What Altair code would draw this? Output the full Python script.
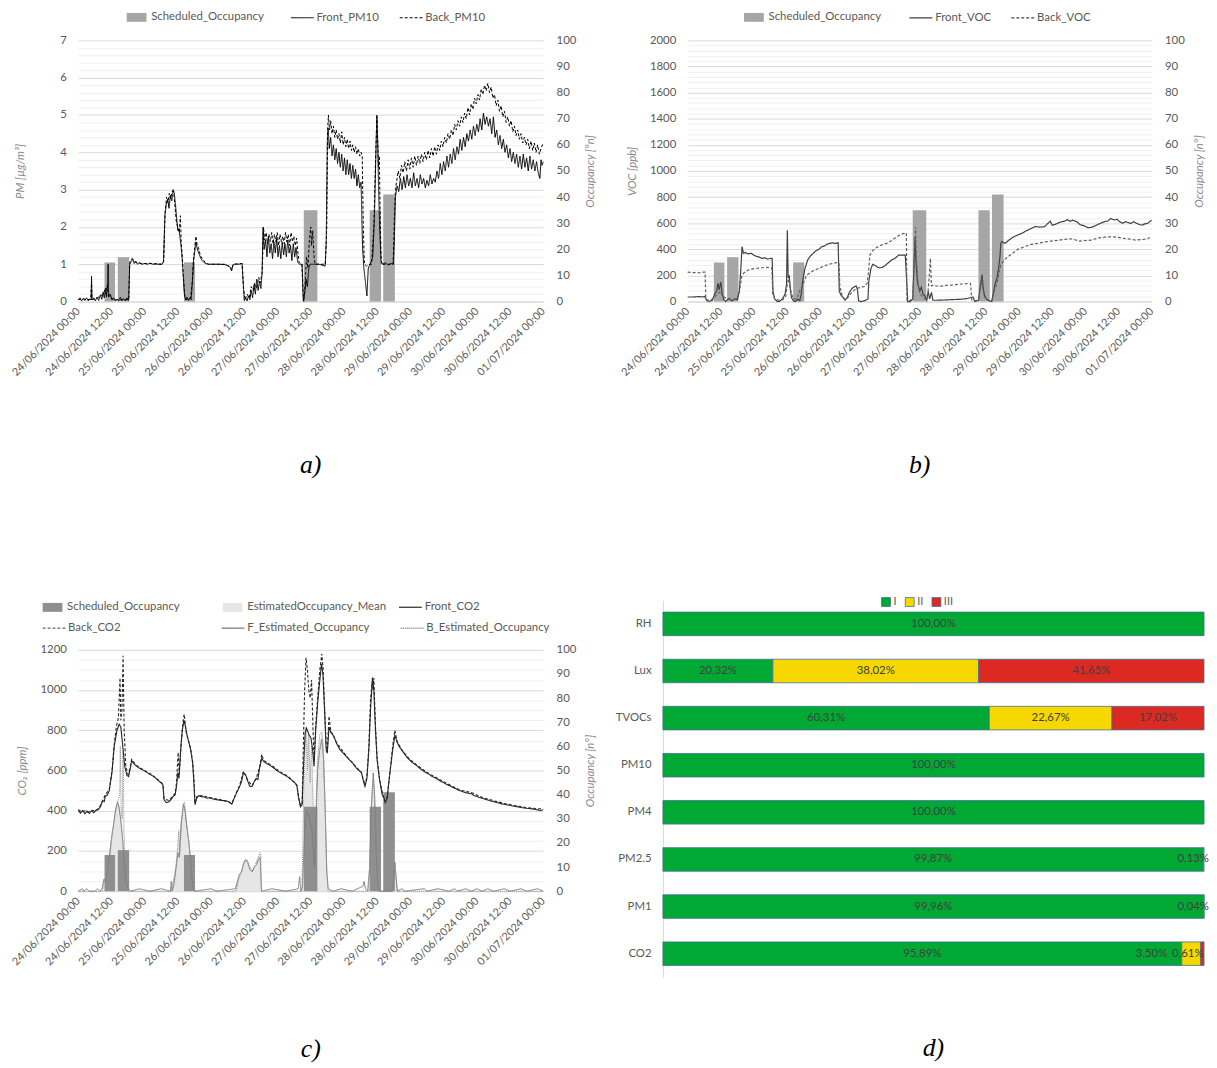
import altair as alt
import pandas as pd

# ---------------- axes / labels ----------------
HOUR_TICKS = list(range(0, 169, 12))
TICK_LABELS = ["24/06/2024 00:00", "24/06/2024 12:00", "25/06/2024 00:00", "25/06/2024 12:00",
               "26/06/2024 00:00", "26/06/2024 12:00", "27/06/2024 00:00", "27/06/2024 12:00",
               "28/06/2024 00:00", "28/06/2024 12:00", "29/06/2024 00:00", "29/06/2024 12:00",
               "30/06/2024 00:00", "30/06/2024 12:00", "01/07/2024 00:00"]
PM_GRID = [round(i * 0.2, 1) for i in range(36)]
VOC_GRID = [i * 40 for i in range(51)]
CO2_GRID = [i * 50 for i in range(25)]
OCC_TICKS = list(range(0, 101, 10))

# ---------------- scheduled occupancy (hours from 24/06 00:00) ----------------
SCHED_START = [9.5, 14.3, 38.2, 81.5, 105.3, 110.2]
SCHED_END = [13.3, 18.4, 42.2, 86.4, 109.4, 114.4]
SCHED_OCC = [15, 17, 15, 35, 35, 41]

# ---------------- a) PM10 ----------------
FRONT_PM10 = [(0, 0.05), (0.6, 0.1), (1.2, 0.02), (1.8, 0.08), (2.4, 0.03), (3.0, 0.1), (3.6, 0.02), (4.2, 0.06),
              (4.7, 0.05), (4.8, 0.68), (4.95, 0.05), (5.6, 0.1), (6.2, 0.02), (6.8, 0.12), (7.4, 0.03), (8.0, 0.18),
              (8.5, 0.06), (9.0, 0.25), (9.4, 0.1), (9.8, 0.35), (10.2, 0.12), (10.6, 0.45), (10.8, 1.0), (11.0, 0.12),
              (11.6, 0.2), (12.2, 0.05), (12.8, 0.1), (13.4, 0.02), (14.0, 0.06), (14.6, 0.02), (15.2, 0.12), (15.8, 0.03),
              (16.4, 0.08), (17.0, 0.02), (17.6, 0.1), (18.2, 0.03), (18.6, 1.0), (19.2, 1.08), (19.7, 1.15), (20.2, 1.02),
              (20.8, 1.08), (21.4, 1.0), (22.0, 1.04), (23.0, 1.0), (24.0, 1.02), (25.0, 1.0), (26.0, 1.03), (27.0, 1.0),
              (28.0, 1.01), (29.0, 1.0), (30.3, 1.0), (30.8, 1.06), (31.3, 2.3), (31.8, 2.6), (32.3, 2.75), (32.8, 2.5),
              (33.3, 2.85), (33.8, 2.7), (34.3, 3.0), (34.7, 2.9), (35.2, 2.55), (35.6, 2.2), (36.0, 1.9), (36.4, 1.95),
              (36.8, 1.7), (37.2, 1.45), (37.6, 1.1), (38.0, 0.6), (38.4, 0.15), (38.8, 0.05), (39.3, 0.12), (39.8, 0.03),
              (40.3, 0.1), (40.8, 0.05), (41.3, 0.6), (41.7, 1.1), (42.1, 1.35), (42.5, 1.6), (42.9, 1.45), (43.3, 1.35),
              (43.8, 1.25), (44.3, 1.15), (44.8, 1.1), (45.4, 1.05), (46.0, 1.02), (47.0, 1.0), (49.0, 1.0), (51.0, 1.0),
              (53.0, 0.99), (54.5, 0.95), (55.0, 0.9), (55.4, 0.82), (55.8, 0.97), (56.5, 1.0), (58.0, 1.0), (59.2, 1.02),
              (59.6, 0.5), (60.0, 0.02), (60.5, 0.1), (61.0, 0.02), (61.5, 0.15), (62.0, 0.05), (62.5, 0.3), (63.0, 0.1),
              (63.5, 0.45), (64.0, 0.2), (64.5, 0.6), (65.0, 0.3), (65.5, 0.55), (66.0, 0.35), (66.4, 0.75), (66.8, 1.98),
              (67.2, 1.4), (67.7, 1.65), (68.2, 1.2), (68.7, 1.75), (69.2, 1.3), (69.7, 1.55), (70.2, 1.15), (70.7, 1.6),
              (71.2, 1.3), (71.7, 1.7), (72.2, 1.2), (72.7, 1.5), (73.2, 1.15), (73.7, 1.6), (74.2, 1.25), (74.7, 1.55),
              (75.2, 1.2), (75.7, 1.65), (76.2, 1.3), (76.7, 1.5), (77.2, 1.1), (77.7, 1.55), (78.2, 1.2), (78.7, 1.45),
              (79.3, 1.05), (80.0, 1.0), (80.9, 1.0), (81.3, 0.02), (81.8, 0.2), (82.3, 0.6), (82.8, 0.4), (83.3, 0.9),
              (83.8, 1.0), (85.0, 1.0), (87.0, 1.0), (89.2, 0.95), (89.6, 1.6), (90.0, 4.3), (90.3, 4.65), (90.7, 4.1),
              (91.2, 4.4), (91.7, 3.9), (92.2, 4.2), (92.7, 3.8), (93.2, 4.1), (93.7, 3.7), (94.2, 4.0), (94.7, 3.6),
              (95.2, 3.95), (95.7, 3.5), (96.2, 3.85), (96.7, 3.4), (97.2, 3.8), (97.7, 3.4), (98.2, 3.7), (98.7, 3.3),
              (99.2, 3.65), (99.7, 3.3), (100.2, 3.55), (100.7, 3.1), (101.2, 3.4), (101.7, 3.05), (102.2, 3.2), (102.7, 1.5),
              (103.2, 0.9), (103.8, 0.5), (104.3, 0.15), (104.8, 0.9), (105.5, 1.0), (106.4, 1.2), (107.0, 2.2), (107.5, 3.8),
              (107.9, 5.0), (108.2, 4.3), (108.5, 3.1), (108.9, 2.0), (109.4, 1.1), (110.0, 1.0), (111.0, 1.04), (112.0, 0.98),
              (113.0, 1.02), (113.8, 1.0), (114.2, 1.6), (114.6, 2.8), (115.2, 3.1), (115.8, 2.95), (116.4, 3.3), (117.0, 3.0),
              (117.6, 3.35), (118.2, 3.05), (118.8, 3.4), (119.4, 3.1), (120.0, 3.3), (120.6, 3.05), (121.2, 3.45), (121.8, 3.1),
              (122.4, 3.3), (123.0, 3.05), (123.6, 3.4), (124.2, 3.15), (124.8, 3.3), (125.4, 3.05), (126.0, 3.25), (126.6, 3.1),
              (127.2, 3.4), (127.8, 3.15), (128.4, 3.3), (129.0, 3.2), (129.6, 3.5), (130.2, 3.3), (130.8, 3.7), (131.4, 3.4),
              (132.0, 3.75), (132.6, 3.5), (133.2, 3.9), (133.8, 3.6), (134.4, 3.95), (135.0, 3.7), (135.6, 4.1), (136.2, 3.8),
              (136.8, 4.15), (137.4, 3.95), (138.0, 4.35), (138.6, 4.05), (139.2, 4.4), (139.8, 4.15), (140.4, 4.5), (141.0, 4.3),
              (141.6, 4.6), (142.2, 4.35), (142.8, 4.7), (143.4, 4.45), (144.0, 4.75), (144.6, 4.55), (145.2, 4.9), (145.8, 4.6),
              (146.4, 5.05), (147.0, 4.75), (147.6, 4.95), (148.2, 4.7), (148.8, 4.9), (149.4, 4.5), (150.0, 4.95), (150.6, 4.4),
              (151.2, 4.6), (151.8, 4.2), (152.4, 4.45), (153.0, 4.1), (153.6, 4.35), (154.2, 4.0), (154.8, 4.2), (155.4, 3.85),
              (156.0, 4.1), (156.6, 3.75), (157.2, 4.0), (157.8, 3.7), (158.4, 3.95), (159.0, 3.6), (159.6, 3.9), (160.2, 3.55),
              (160.8, 3.95), (161.4, 3.6), (162.0, 3.85), (162.6, 3.5), (163.2, 3.9), (163.8, 3.55), (164.4, 3.8), (165.0, 3.5),
              (165.6, 3.75), (166.2, 3.45), (166.8, 3.3), (167.2, 3.8), (167.6, 3.65), (168.0, 3.75)]

BACK_PM10 = [(0, 0.05), (1.5, 0.08), (3.0, 0.05), (4.5, 0.06), (4.8, 0.55), (5.0, 0.05), (6.5, 0.08), (8.0, 0.15),
             (9.0, 0.2), (9.5, 0.3), (10.0, 0.2), (10.5, 0.45), (10.9, 0.15), (11.5, 0.1), (13.0, 0.05), (15.0, 0.05),
             (17.0, 0.05), (18.3, 0.05), (18.6, 1.05), (19.3, 1.15), (20.0, 1.08), (21.0, 1.05), (23.0, 1.02), (26.0, 1.02),
             (30.3, 1.0), (30.9, 1.1), (31.4, 2.4), (31.9, 2.8), (32.4, 2.65), (32.9, 2.9), (33.4, 2.75), (33.9, 2.95),
             (34.5, 2.95), (35.0, 2.5), (35.5, 2.1), (36.0, 2.0), (36.5, 1.85), (36.9, 2.3), (37.2, 1.6), (37.6, 1.2),
             (38.0, 0.7), (38.4, 0.2), (38.9, 0.05), (40.5, 0.08), (41.2, 0.5), (41.6, 1.1), (42.1, 1.45), (42.5, 1.75),
             (42.9, 1.55), (43.4, 1.45), (43.9, 1.3), (44.4, 1.2), (45.0, 1.12), (46.0, 1.05), (47.0, 1.0), (50.0, 1.0),
             (53.0, 1.0), (55.0, 0.92), (55.5, 0.85), (56.0, 1.0), (59.2, 1.02), (59.7, 0.4), (60.2, 0.05), (61.0, 0.2),
             (61.8, 0.1), (62.5, 0.4), (63.2, 0.3), (63.8, 0.5), (64.5, 0.35), (65.2, 0.65), (65.8, 0.5), (66.5, 0.8),
             (66.9, 2.0), (67.4, 1.65), (67.9, 1.85), (68.4, 1.55), (68.9, 1.8), (69.4, 1.6), (69.9, 1.85), (70.4, 1.55),
             (70.9, 1.8), (71.4, 1.6), (71.9, 1.85), (72.4, 1.5), (72.9, 1.8), (73.4, 1.6), (73.9, 1.75), (74.4, 1.55),
             (74.9, 1.85), (75.4, 1.6), (75.9, 1.8), (76.4, 1.5), (76.9, 1.85), (77.4, 1.6), (77.9, 1.75), (78.4, 1.5),
             (78.9, 1.7), (79.4, 1.3), (79.8, 1.05), (80.8, 1.0), (81.2, 0.3), (81.5, 0.0), (82.0, 0.5), (82.5, 1.2),
             (83.0, 0.9), (83.5, 1.6), (84.0, 2.0), (84.3, 1.5), (84.7, 1.9), (85.2, 1.2), (85.6, 1.0), (89.3, 1.0),
             (89.8, 2.0), (90.1, 4.6), (90.4, 5.0), (90.8, 4.6), (91.2, 4.85), (91.7, 4.5), (92.2, 4.7), (92.7, 4.4),
             (93.2, 4.6), (93.7, 4.35), (94.2, 4.5), (94.7, 4.25), (95.2, 4.55), (95.7, 4.2), (96.2, 4.4), (96.7, 4.15),
             (97.2, 4.35), (97.7, 4.1), (98.2, 4.3), (98.7, 4.05), (99.2, 4.2), (99.7, 4.0), (100.2, 4.15), (100.7, 3.95),
             (101.2, 4.1), (101.7, 3.9), (102.2, 4.0), (102.6, 3.9), (103.0, 2.0), (103.4, 1.0), (104.2, 0.95), (105.0, 1.0),
             (106.0, 1.0), (106.8, 2.0), (107.5, 4.0), (107.9, 4.95), (108.2, 4.3), (108.5, 3.6), (108.8, 3.9), (109.1, 2.2),
             (109.5, 1.0), (113.8, 1.0), (114.2, 2.2), (114.6, 3.0), (115.0, 3.2), (115.6, 3.5), (116.2, 3.3), (116.8, 3.65),
             (117.4, 3.45), (118.0, 3.75), (118.6, 3.5), (119.2, 3.8), (119.8, 3.55), (120.4, 3.85), (121.0, 3.6), (121.6, 3.9),
             (122.2, 3.65), (122.8, 3.9), (123.4, 3.7), (124.0, 3.95), (124.6, 3.75), (125.2, 4.0), (125.8, 3.8), (126.4, 4.05),
             (127.0, 3.85), (127.6, 4.1), (128.2, 3.9), (128.8, 4.15), (129.4, 3.95), (130.0, 4.2), (130.6, 4.05), (131.2, 4.3),
             (131.8, 4.15), (132.4, 4.4), (133.0, 4.25), (133.6, 4.5), (134.2, 4.35), (134.8, 4.6), (135.4, 4.45), (136.0, 4.75),
             (136.6, 4.6), (137.2, 4.85), (137.8, 4.7), (138.4, 4.95), (139.0, 4.8), (139.6, 5.05), (140.2, 4.9), (140.8, 5.2),
             (141.4, 5.0), (142.0, 5.3), (142.6, 5.15), (143.2, 5.45), (143.8, 5.3), (144.4, 5.55), (145.0, 5.4), (145.6, 5.7),
             (146.2, 5.55), (146.8, 5.8), (147.4, 5.65), (148.0, 5.85), (148.6, 5.6), (149.2, 5.75), (149.8, 5.45), (150.4, 5.55),
             (151.0, 5.25), (151.6, 5.4), (152.2, 5.1), (152.8, 5.25), (153.4, 4.95), (154.0, 5.1), (154.6, 4.8), (155.2, 4.95),
             (155.8, 4.7), (156.4, 4.85), (157.0, 4.55), (157.6, 4.7), (158.2, 4.45), (158.8, 4.6), (159.4, 4.35), (160.0, 4.5),
             (160.6, 4.25), (161.2, 4.4), (161.8, 4.2), (162.4, 4.35), (163.0, 4.1), (163.6, 4.3), (164.2, 4.05), (164.8, 4.25),
             (165.4, 4.0), (166.0, 4.2), (166.6, 3.95), (167.2, 4.1), (168.0, 4.25)]

# ---------------- b) VOC ----------------
FRONT_VOC = [(0, 35), (2, 35), (4, 38), (5.5, 35), (6.2, 40), (7.0, 5), (8.0, 2), (9.0, 10), (9.8, 60), (10.5, 80),
             (11.0, 140), (11.4, 90), (12.0, 150), (12.5, 60), (13.0, 20), (13.8, 0), (15.0, 25), (16.0, 5), (17.0, 20),
             (18.0, 15), (18.7, 80), (19.2, 230), (19.7, 420), (20.2, 370), (21.0, 375), (22.0, 365), (23.0, 370),
             (24.0, 355), (25.0, 345), (26.0, 340), (27.0, 330), (28.0, 335), (29.0, 325), (30.0, 330), (30.6, 330),
             (30.9, 80), (31.5, 20), (32.5, 0), (33.5, 5), (34.5, 25), (35.3, 60), (35.8, 130), (36.1, 546), (36.4, 180),
             (36.8, 200), (37.2, 90), (37.6, 30), (38.3, 5), (39.0, 0), (40.0, 18), (40.6, 5), (41.1, 55), (41.8, 180),
             (42.5, 255), (43.5, 320), (44.5, 350), (45.5, 370), (46.5, 390), (47.5, 400), (48.5, 420), (49.5, 425),
             (50.5, 440), (51.5, 445), (52.5, 450), (53.5, 445), (54.5, 450), (54.9, 80), (55.5, 50), (56.5, 25), (57.0, 10),
             (57.8, 30), (58.5, 68), (59.5, 100), (60.5, 115), (61.0, 120), (61.5, 90), (61.9, 5), (63.0, 0), (64.5, 10),
             (65.3, 20), (65.6, 156), (66.4, 255), (67.0, 285), (68.0, 275), (68.6, 265), (69.5, 258), (70.5, 262),
             (71.5, 275), (72.8, 300), (74.0, 320), (75.0, 330), (76.4, 355), (77.5, 355), (78.8, 355), (79.2, 200),
             (79.7, 0), (80.6, 0), (81.5, 20), (82.0, 300), (82.3, 490), (82.7, 300), (83.2, 150), (84.0, 80), (84.6, 110),
             (85.2, 60), (86.0, 40), (86.6, 10), (87.1, 80), (87.6, 20), (88.3, 70), (88.8, 10), (90.0, 10), (93.0, 12),
             (96.0, 15), (99.0, 18), (101.0, 22), (102.5, 30), (103.3, 35), (104.0, 0), (105.3, 10), (106.0, 120),
             (106.6, 206), (107.0, 100), (107.5, 40), (108.3, 18), (109.3, 5), (110.1, 0), (111.3, 131), (112.0, 181),
             (112.6, 256), (113.1, 350), (113.4, 446), (113.8, 460), (114.9, 446), (116.0, 465), (117.2, 484), (118.5, 500),
             (119.6, 510), (121.0, 522), (122.5, 540), (124.4, 560), (126.0, 575), (127.5, 570), (129.2, 573), (130.5, 600),
             (131.3, 615), (132.0, 585), (133.0, 590), (134.0, 600), (135.2, 610), (136.5, 615), (137.5, 628), (138.5, 615),
             (139.5, 623), (141.0, 610), (142.0, 590), (143.6, 580), (145.0, 565), (146.5, 570), (148.0, 585), (149.5, 600),
             (151.0, 612), (152.3, 618), (153.1, 636), (154.5, 625), (155.5, 630), (156.5, 610), (157.5, 600), (158.5, 612),
             (159.5, 605), (160.5, 598), (161.5, 612), (162.5, 600), (163.5, 590), (164.6, 585), (165.5, 595), (166.5, 598),
             (167.2, 610), (168.0, 623)]

BACK_VOC = [(0, 225), (2, 222), (4, 220), (5.8, 225), (6.3, 225), (6.6, 20), (7.5, 10), (9.0, 20), (10.0, 40), (11.0, 60),
            (12.0, 80), (12.6, 40), (13.5, 30), (15.0, 20), (16.5, 15), (17.5, 20), (18.6, 50), (19.1, 130), (19.6, 190),
            (20.3, 218), (21.0, 230), (22.1, 244), (23.5, 250), (25.0, 255), (26.5, 257), (28.0, 262), (29.5, 260),
            (30.5, 257), (30.8, 60), (31.5, 20), (33.0, 10), (34.5, 15), (35.5, 40), (36.0, 120), (36.5, 175), (37.0, 120),
            (37.6, 60), (38.3, 20), (39.5, 20), (40.5, 80), (41.5, 120), (42.3, 160), (43.0, 200), (44.0, 215), (45.0, 230),
            (46.5, 245), (48.0, 260), (49.5, 272), (51.0, 285), (52.5, 292), (54.0, 298), (54.8, 295), (55.1, 120),
            (56.0, 40), (57.0, 15), (58.0, 30), (59.0, 60), (60.0, 80), (61.0, 100), (62.0, 105), (63.0, 110), (64.0, 115),
            (65.0, 140), (65.6, 250), (66.0, 357), (67.0, 390), (68.0, 410), (69.5, 425), (70.5, 436), (72.4, 448),
            (74.0, 470), (76.4, 505), (78.0, 520), (79.2, 525), (79.4, 10), (80.5, 5), (81.5, 30), (82.0, 250), (82.5, 570),
            (82.9, 300), (83.5, 120), (84.2, 60), (85.0, 40), (86.0, 20), (87.0, 60), (87.5, 200), (87.9, 330), (88.3, 120),
            (88.8, 125), (90.0, 120), (92.0, 118), (94.0, 125), (96.0, 128), (98.0, 132), (100.0, 135), (102.0, 140),
            (102.4, 140), (102.9, 10), (104.0, 5), (105.3, 15), (106.0, 100), (106.6, 180), (107.2, 80), (108.0, 20),
            (110.0, 0), (111.3, 100), (112.3, 170), (113.0, 250), (113.4, 282), (114.9, 325), (117.2, 363), (119.6, 400),
            (122.0, 421), (124.4, 438), (126.8, 446), (129.2, 456), (131.5, 463), (133.8, 468), (136.2, 476), (138.6, 481),
            (140.0, 475), (141.5, 463), (143.6, 466), (146.0, 470), (148.7, 488), (151.0, 493), (153.1, 496), (155.5, 493),
            (158.0, 483), (160.5, 478), (162.0, 471), (164.6, 475), (166.5, 481), (168.0, 496)]

# ---------------- c) CO2 + estimated occupancy ----------------
FRONT_CO2 = [(0, 400), (0.8, 388), (1.6, 402), (2.4, 385), (3.2, 398), (4.0, 386), (4.8, 400), (5.6, 390), (6.4, 402),
             (7.2, 405), (8.0, 420), (8.8, 450), (9.4, 445), (9.8, 472), (10.5, 478), (11.2, 500), (12.2, 590), (13.0, 720),
             (14.0, 800), (14.8, 830), (15.4, 815), (16.1, 720), (16.8, 620), (17.6, 575), (18.2, 570), (18.8, 610),
             (19.3, 650), (20.0, 635), (21.0, 622), (22.0, 612), (23.0, 605), (24.0, 598), (25.0, 588), (26.0, 580),
             (27.0, 572), (28.0, 562), (29.0, 548), (30.0, 538), (30.6, 528), (31.0, 455), (31.8, 440), (32.8, 445),
             (33.5, 455), (34.2, 470), (35.0, 478), (35.5, 520), (36.0, 590), (36.4, 560), (37.0, 700), (37.6, 800),
             (38.2, 850), (38.7, 820), (39.4, 770), (40.6, 705), (41.3, 640), (41.7, 560), (42.2, 430), (42.8, 462),
             (43.5, 475), (44.5, 470), (45.5, 468), (46.5, 462), (47.5, 465), (48.7, 458), (50.0, 455), (51.2, 452),
             (52.5, 450), (53.5, 448), (54.5, 445), (55.5, 432), (56.3, 460), (57.1, 485), (58.3, 520), (59.0, 545),
             (59.7, 590), (60.5, 578), (61.3, 545), (62.0, 522), (62.8, 520), (63.6, 545), (64.4, 560), (64.9, 555),
             (65.5, 610), (66.3, 660), (67.0, 645), (68.0, 635), (69.0, 628), (70.4, 615), (71.8, 600), (73.1, 588),
             (74.5, 578), (75.9, 566), (77.2, 552), (78.3, 538), (79.0, 525), (79.6, 465), (80.3, 420), (80.9, 430),
             (81.4, 620), (82.0, 790), (82.5, 810), (83.3, 780), (84.1, 760), (84.7, 700), (85.2, 620), (85.8, 800),
             (86.6, 950), (87.3, 1050), (87.9, 1130), (88.4, 1080), (89.0, 900), (89.6, 700), (90.0, 686), (90.6, 816),
             (91.2, 790), (92.4, 770), (93.3, 735), (94.5, 705), (95.5, 690), (96.9, 669), (97.8, 655), (99.0, 640),
             (100.5, 612), (101.5, 600), (102.3, 590), (103.0, 550), (103.6, 521), (104.3, 560), (105.0, 700), (105.6, 900),
             (106.3, 1062), (106.8, 1000), (107.4, 800), (108.0, 650), (108.8, 560), (109.8, 480), (110.6, 460), (110.9, 440),
             (111.6, 460), (112.4, 560), (112.9, 620), (113.6, 700), (114.4, 776), (115.2, 740), (116.0, 718), (117.0, 700),
             (118.0, 680), (119.0, 662), (119.8, 652), (120.6, 640), (121.5, 632), (122.5, 622), (123.5, 610), (124.5, 600),
             (125.5, 590), (126.7, 582), (127.6, 572), (128.5, 566), (129.4, 560), (130.2, 554), (131.1, 545), (132.0, 540),
             (133.0, 531), (134.0, 526), (135.0, 518), (136.0, 512), (137.0, 506), (138.0, 499), (139.0, 494), (140.0, 490),
             (141.0, 487), (142.1, 484), (143.0, 476), (144.0, 471), (145.0, 466), (146.0, 462), (147.0, 457), (148.0, 453),
             (149.0, 448), (150.0, 446), (151.0, 441), (152.0, 439), (153.0, 434), (154.0, 432), (155.0, 429), (156.0, 427),
             (157.0, 423), (158.0, 421), (159.0, 419), (160.0, 416), (161.0, 414), (162.0, 412), (163.0, 411), (164.0, 409),
             (165.0, 406), (166.0, 404), (167.0, 401), (168.0, 405)]

BACK_CO2 = [(0, 405), (1.2, 395), (2.4, 400), (3.6, 392), (4.8, 402), (6.0, 398), (7.2, 410), (8.0, 425), (9.0, 455),
            (9.8, 480), (11.2, 505), (12.2, 600), (13.0, 730), (13.8, 820), (14.5, 860), (15.1, 1060), (15.4, 850),
            (15.8, 900), (16.2, 1170), (16.6, 800), (17.2, 620), (18.0, 580), (18.8, 615), (19.3, 655), (21.0, 625),
            (24.0, 600), (27.0, 575), (30.0, 540), (30.6, 530), (31.0, 460), (32.8, 450), (34.2, 475), (35.0, 485),
            (35.5, 540), (36.1, 690), (36.5, 580), (37.2, 740), (38.0, 860), (38.3, 880), (39.0, 790), (40.6, 710),
            (41.4, 640), (41.8, 560), (42.2, 435), (42.8, 470), (44.5, 475), (48.7, 462), (52.5, 452), (55.5, 436),
            (57.1, 490), (58.3, 525), (59.7, 595), (61.3, 550), (62.8, 525), (64.4, 565), (65.5, 615), (66.3, 680),
            (67.0, 650), (70.4, 620), (73.1, 592), (75.9, 570), (79.0, 528), (79.6, 470), (80.3, 425), (80.9, 440),
            (81.3, 700), (81.8, 1000), (82.3, 1160), (82.8, 1100), (83.3, 1000), (83.8, 960), (84.3, 1050), (84.8, 820),
            (85.2, 650), (85.8, 820), (86.6, 980), (87.3, 1100), (88.0, 1180), (88.5, 1100), (89.0, 920), (89.6, 720),
            (90.0, 700), (90.6, 870), (91.2, 800), (93.3, 740), (96.9, 672), (100.5, 615), (102.3, 592), (103.6, 525),
            (104.3, 570), (105.0, 720), (105.6, 950), (106.2, 1040), (106.5, 1000), (106.8, 1060), (107.4, 820),
            (108.0, 660), (108.8, 565), (110.0, 480), (110.9, 445), (111.6, 465), (112.9, 630), (113.6, 720), (114.4, 800),
            (115.2, 745), (117.0, 700), (119.8, 655), (122.5, 625), (126.7, 584), (130.2, 558), (134.0, 530), (138.0, 502),
            (142.1, 490), (146.0, 466), (150.0, 450), (154.0, 436), (158.0, 425), (162.0, 416), (166.0, 410), (168.0, 410)]

EST_OCC_MEAN = [(0, 0), (8.6, 0), (9.5, 3), (10.5, 8), (11.2, 15), (12.0, 20), (12.8, 27), (13.5, 33), (14.0, 37),
                (14.6, 36), (15.2, 35), (15.7, 30), (16.3, 22), (16.8, 12), (17.4, 3), (18.1, 0), (33.5, 0), (34.2, 5),
                (35.0, 10), (35.7, 17), (36.5, 24), (37.2, 30), (38.0, 35), (38.5, 36), (39.4, 27), (40.0, 20), (40.6, 12),
                (41.3, 1), (42, 0), (56.5, 0), (57.1, 2.5), (58.0, 6.6), (59.0, 9), (59.6, 10.7), (60.5, 13.7), (61.3, 12.5),
                (62.0, 10), (62.8, 8.5), (63.6, 9.5), (64.4, 12), (65.1, 14.8), (65.7, 15.5), (66.3, 0), (80.8, 0),
                (81.3, 20), (81.8, 45), (82.3, 60), (83.0, 64), (83.6, 55), (84.2, 50), (84.8, 42), (85.3, 15), (85.8, 30),
                (86.4, 55), (87.2, 62), (88.0, 65), (88.6, 55), (89.2, 30), (89.8, 5), (90.3, 0), (104.6, 0), (105.3, 10),
                (106.0, 35), (106.6, 47), (107.1, 40), (107.6, 20), (108.2, 3), (108.6, 0), (113.5, 0), (114.0, 6),
                (114.4, 12), (114.9, 5), (115.3, 0), (168, 0)]

F_EST_OCC = [(0, 0), (1.5, 1), (2, 0), (3, 1), (4, 0), (6, 0), (7.0, 1), (8, 0), (8.6, 1), (9.3, 5), (9.9, 4), (10.5, 8),
             (11.2, 14), (12.0, 22), (12.8, 28), (13.5, 34), (14.2, 37), (14.7, 35), (15.3, 30), (16.0, 22), (16.6, 12),
             (17.2, 4), (18.1, 1), (19, 0), (22, 1), (26, 0), (30, 1), (33.3, 0), (33.6, 4), (34.0, 0), (34.6, 3),
             (35.4, 10), (36.0, 16), (36.5, 14), (37.2, 28), (38.0, 36), (38.5, 34), (39.2, 27), (40.0, 20), (40.8, 10),
             (41.3, 2), (42, 0), (48, 1), (50, 0), (56.8, 1), (57.5, 4), (58.2, 7), (59.0, 8), (59.6, 11), (60.4, 13),
             (61.2, 12), (62.0, 9), (62.8, 8), (63.6, 10), (64.4, 11), (65.1, 13), (65.7, 14), (66.2, 0), (70, 1), (75, 0),
             (79.5, 1), (80.0, 6), (80.4, 0), (81.0, 2), (81.5, 15), (82.0, 30), (82.5, 33), (83.2, 32), (83.8, 28),
             (84.5, 25), (85.0, 15), (85.4, 10), (85.9, 30), (86.5, 50), (87.2, 58), (88.0, 63), (88.6, 55), (89.2, 35),
             (89.8, 8), (90.3, 1), (92, 0), (95, 1), (99, 0), (102.8, 2), (103.3, 4), (103.8, 1), (104.6, 0), (105.3, 10),
             (106.0, 38), (106.6, 49), (107.1, 40), (107.6, 18), (108.2, 3), (108.6, 0), (113.5, 0), (114.0, 6),
             (114.4, 12), (114.9, 5), (115.3, 0), (117, 1), (118, 0), (125, 1), (126, 0), (130, 1), (134, 0), (136, 1),
             (137, 0), (140, 1), (142, 0), (144, 1), (146, 0), (148, 1), (150, 0), (154, 1), (156, 0), (160, 1), (162, 0),
             (166, 1), (168, 0)]

B_EST_OCC = [(0, 0), (8.6, 0), (9.5, 4), (10.5, 8), (11.5, 15), (12.5, 25), (13.5, 33), (14.5, 38), (15.0, 40), (15.2, 60),
             (15.5, 35), (15.9, 30), (16.2, 58), (16.5, 25), (17.0, 10), (17.6, 2), (18.2, 0), (33.5, 0), (34.0, 3),
             (34.8, 6), (35.5, 12), (36.0, 20), (36.3, 25), (36.7, 15), (37.3, 28), (38.0, 36), (38.4, 37), (39.0, 30),
             (40.0, 20), (40.8, 10), (41.4, 1), (42, 0), (57, 0), (58, 5), (59, 8), (60, 12), (61, 13), (62, 10), (63, 8),
             (64, 11), (65, 14), (65.7, 16), (66.0, 15), (66.2, 0), (80.8, 0), (81.3, 30), (81.8, 55), (82.3, 68),
             (82.8, 50), (83.3, 65), (83.8, 45), (84.3, 60), (84.8, 40), (85.3, 20), (85.9, 35), (86.5, 55), (87.3, 65),
             (88.0, 66), (88.6, 60), (89.2, 35), (89.8, 8), (90.3, 0), (104.6, 0), (105.3, 10), (106.0, 35), (106.5, 45),
             (107.0, 40), (107.6, 20), (108.2, 3), (108.6, 0), (113.5, 0), (114.0, 5), (114.4, 11), (114.9, 5), (115.3, 0),
             (168, 0)]

# ---------------- d) comfort classes ----------------
CATEGORIES = ["RH", "Lux", "TVOCs", "PM10", "PM4", "PM2.5", "PM1", "CO2"]
CLASS_I = [100.00, 20.32, 60.31, 100.00, 100.00, 99.87, 99.96, 95.89]
CLASS_II = [0.00, 38.02, 22.67, 0.00, 0.00, 0.13, 0.04, 3.50]
CLASS_III = [0.00, 41.65, 17.02, 0.00, 0.00, 0.00, 0.00, 0.61]
LABEL_OVERRIDE = {("PM2.5", "II"): 98.0, ("PM1", "II"): 98.0, ("CO2", "II"): 90.3, ("CO2", "III"): 97.0}

# ---------------- styling ----------------
FONT = "Lato"
AX_COL = "#595959"
TITLE_COL = "#8c8c8c"
MAJOR = "#d9d9d9"
MINOR = "#f0f0f0"
RECT_PATH = "M-2,-0.9H2V0.9H-2Z"   # 20 x 9 swatch at symbolSize 100
LINE_PATH = "M-2.3,0H2.3"          # 23 px line at symbolSize 100
LABEL_EXPR = "[" + ",".join("'" + t + "'" for t in TICK_LABELS) + "][round(datum.value / 12)]"
XS = alt.Scale(domain=[0, 168], nice=False, zero=False)
OCC_SCALE = alt.Scale(domain=[0, 100], nice=False)

# panel c plot area is extended upward (above 1200 ppm) to share its top with panel d
C_HEIGHT = 294
C_INNER = 244
CO2_SCALE = alt.Scale(domain=[0, 1200 * C_HEIGHT / C_INNER], nice=False)
OCC_SCALE_C = alt.Scale(domain=[0, 100 * C_HEIGHT / C_INNER], nice=False)
C_TITLE_Y = (C_HEIGHT - C_INNER) + C_INNER / 2


def series_df(pairs, name):
    return pd.DataFrame({"h": [p[0] for p in pairs], "v": [p[1] for p in pairs], "series": name})


def x_axis():
    return alt.Axis(values=HOUR_TICKS, labelExpr=LABEL_EXPR, labelAngle=-45, labelAlign="right",
                    labelBaseline="middle", labelPadding=8, labelFont=FONT, labelFontSize=11,
                    labelColor=AX_COL, labelOverlap=False, labelFlush=False, ticks=False, tickSize=0,
                    domainColor=MAJOR, grid=False, title=None)


def left_axis(values, step, title, title_pad, title_y=None):
    kw = {}
    if title_y is not None:
        kw["titleY"] = title_y
    return alt.Axis(values=values, orient="left",
                    labelExpr=f"datum.value % {step} === 0 ? format(datum.value, 'd') : ''",
                    gridColor={"condition": {"test": f"datum.value % {step} === 0", "value": MAJOR}, "value": MINOR},
                    grid=True, domain=False, ticks=False, tickSize=0, labelPadding=12, labelFont=FONT,
                    labelFontSize=11.5, labelColor=AX_COL, labelOverlap=False, title=title,
                    titlePadding=title_pad, titleFont=FONT, titleFontSize=11.5, titleFontStyle="italic",
                    titleFontWeight="normal", titleColor=TITLE_COL, **kw)


def right_axis(title, title_pad=20, title_y=None):
    kw = {}
    if title_y is not None:
        kw["titleY"] = title_y
    return alt.Axis(values=OCC_TICKS, orient="right", grid=False, domain=False, ticks=False, tickSize=0,
                    labelPadding=13, labelFont=FONT, labelFontSize=11.5, labelColor=AX_COL, labelOverlap=False,
                    title=title, titlePadding=title_pad, titleAngle=270, titleFont=FONT, titleFontSize=11.5,
                    titleFontStyle="italic", titleFontWeight="normal", titleColor=TITLE_COL, **kw)


def leg(**kw):
    base = dict(orient="none", direction="horizontal", title=None, labelFont=FONT, labelFontSize=11.5,
                labelColor=AX_COL, labelOffset=3)
    base.update(kw)
    return alt.Legend(**base)


def rect_leg(**kw):
    return leg(symbolType=RECT_PATH, symbolSize=100, symbolStrokeWidth=0, symbolOffset=4.25, labelOffset=9, **kw)


def line_leg(**kw):
    return leg(symbolType=LINE_PATH, symbolSize=100, symbolOffset=5.75, labelOffset=8.5, **kw)


def panel_title(text, offset):
    return alt.TitleParams(text=text, orient="bottom", anchor="middle", offset=offset, font="Liberation Serif",
                           fontSize=26, fontStyle="italic", fontWeight="normal", color="black")


sched = pd.DataFrame({"start": SCHED_START, "end": SCHED_END, "occ": SCHED_OCC, "series": "Scheduled_Occupancy"})


def sched_layer(color_scale, legend, axis, yscale=OCC_SCALE):
    return alt.Chart(sched).mark_rect().encode(
        x=alt.X("start:Q", scale=XS, axis=x_axis()),
        x2="end:Q",
        y=alt.Y("occ:Q", scale=yscale, axis=axis),
        y2=alt.datum(0),
        color=alt.Color("series:N", scale=color_scale, legend=legend),
    )


def line_layer(pairs, name, color, width, yscale, yaxis, dash_scale, dash_legend):
    return alt.Chart(series_df(pairs, name)).mark_line(color=color, strokeWidth=width).encode(
        x=alt.X("h:Q", scale=XS, axis=x_axis()),
        y=alt.Y("v:Q", scale=yscale, axis=yaxis),
        strokeDash=alt.StrokeDash("series:N", scale=dash_scale, legend=dash_legend),
    )


TOP_LEG_Y = -29

# ---- panel a ----
sched_a = sched_layer(alt.Scale(domain=["Scheduled_Occupancy"], range=["#a6a6a6"]),
                      rect_leg(legendX=49, legendY=TOP_LEG_Y), right_axis("Occupancy [°n]"))
PM_SCALE = alt.Scale(domain=[0, 7], nice=False)
pm_axis = left_axis(PM_GRID, 1, "PM [µg/m³]", 35)
PM_DASH = alt.Scale(domain=["Front_PM10", "Back_PM10"], range=[[1, 0], [3, 2]])
PM_LEG = line_leg(legendX=215, legendY=TOP_LEG_Y, symbolStrokeColor="black", symbolStrokeWidth=1, columnPadding=19)
pm_lines = alt.layer(
    line_layer(FRONT_PM10, "Front_PM10", "black", 1, PM_SCALE, pm_axis, PM_DASH, PM_LEG),
    line_layer(BACK_PM10, "Back_PM10", "black", 1, PM_SCALE, pm_axis, PM_DASH, PM_LEG),
)
panel_a = alt.layer(sched_a, pm_lines).resolve_scale(y="independent").properties(
    width=470, height=264, title=panel_title("a)", 76))

# ---- panel b ----
sched_b = sched_layer(alt.Scale(domain=["Scheduled_Occupancy"], range=["#a6a6a6"]),
                      rect_leg(legendX=57, legendY=TOP_LEG_Y), right_axis("Occupancy [n°]"))
VOC_SCALE = alt.Scale(domain=[0, 2000], nice=False)
voc_axis = left_axis(VOC_GRID, 200, "VOC [ppb]", 12)
VOC_DASH = alt.Scale(domain=["Front_VOC", "Back_VOC"], range=[[1, 0], [3, 2]])
VOC_LEG = line_leg(legendX=224, legendY=TOP_LEG_Y, symbolStrokeColor="#404040", symbolStrokeWidth=1.2,
                   columnPadding=17)
voc_lines = alt.layer(
    line_layer(FRONT_VOC, "Front_VOC", "#404040", 1.2, VOC_SCALE, voc_axis, VOC_DASH, VOC_LEG),
    line_layer(BACK_VOC, "Back_VOC", "#606060", 1.2, VOC_SCALE, voc_axis, VOC_DASH, VOC_LEG),
)
panel_b = alt.layer(sched_b, voc_lines).resolve_scale(y="independent").properties(
    width=469, height=264, title=panel_title("b)", 76))

# ---- panel c ----
FILL_C = alt.Scale(domain=["Scheduled_Occupancy", "EstimatedOccupancy_Mean"], range=["#8f8f8f", "#e6e6e6"])
FILL_C_LEG = rect_leg(legendX=-36, legendY=1, gridAlign="all", columnPadding=16)
DASH_C = alt.Scale(domain=["Back_CO2", "F_Estimated_Occupancy", "B_Estimated_Occupancy"], range=[[3, 2], [1, 0], [1, 1]])
DASH_C_LEG = line_leg(legendX=-36, legendY=22, symbolStrokeColor="#404040", symbolStrokeWidth=1,
                      gridAlign="all", columnPadding=28)
occ_axis_c = right_axis("Occupancy [n°]", 20, C_TITLE_Y)
co2_axis = left_axis(CO2_GRID, 200, "CO₂ [ppm]", 13, C_TITLE_Y)

est_area = alt.Chart(series_df(EST_OCC_MEAN, "EstimatedOccupancy_Mean")).mark_area(interpolate="linear").encode(
    x=alt.X("h:Q", scale=XS, axis=x_axis()),
    y=alt.Y("v:Q", scale=OCC_SCALE_C, axis=occ_axis_c),
    color=alt.Color("series:N", scale=FILL_C, legend=FILL_C_LEG),
)
sched_c = sched_layer(FILL_C, FILL_C_LEG, occ_axis_c, OCC_SCALE_C)
est_lines = alt.layer(
    line_layer(F_EST_OCC, "F_Estimated_Occupancy", "#7a7a7a", 1, OCC_SCALE_C, occ_axis_c, DASH_C, DASH_C_LEG),
    line_layer(B_EST_OCC, "B_Estimated_Occupancy", "#8c8c8c", 1, OCC_SCALE_C, occ_axis_c, DASH_C, DASH_C_LEG),
)
front_co2 = alt.Chart(series_df(FRONT_CO2, "Front_CO2")).mark_line(color="#262626", strokeWidth=1.1).encode(
    x=alt.X("h:Q", scale=XS, axis=x_axis()),
    y=alt.Y("v:Q", scale=CO2_SCALE, axis=co2_axis),
    opacity=alt.Opacity("series:N", scale=alt.Scale(domain=["Front_CO2"], range=[1]),
                        legend=line_leg(legendX=324, legendY=1, symbolStrokeColor="#262626", symbolStrokeWidth=1.2)),
)
back_co2 = line_layer(BACK_CO2, "Back_CO2", "#262626", 1.1, CO2_SCALE, co2_axis, DASH_C, DASH_C_LEG)
right_group = alt.layer(est_area, sched_c, est_lines)
left_group = alt.layer(front_co2, back_co2)
panel_c = alt.layer(right_group, left_group).resolve_scale(y="independent").properties(
    width=470, height=C_HEIGHT, title=panel_title("c)", 70))

# ---- panel d ----
rows = []
for i, cat in enumerate(CATEGORIES):
    start = 0.0
    for cls, vals in (("I", CLASS_I), ("II", CLASS_II), ("III", CLASS_III)):
        v = vals[i]
        if v > 0:
            mid = start + v / 2
            rows.append({"cat": cat, "cls": cls, "start": start, "end": start + v,
                         "lab": LABEL_OVERRIDE.get((cat, cls), mid),
                         "text": f"{v:.2f}%".replace(".", ",")})
        start += v
d_df = pd.DataFrame(rows)

Y_D = alt.Y("cat:N", sort=CATEGORIES, scale=alt.Scale(paddingInner=0.5, paddingOuter=0.25),
            axis=alt.Axis(title=None, labelFont=FONT, labelFontSize=11.5, labelColor=AX_COL, labelPadding=12,
                          ticks=False, tickSize=0, domainColor=MAJOR, grid=False))
XD = alt.Scale(domain=[0, 100], nice=False)
bars_d = alt.Chart(d_df).mark_bar(stroke="#41719c", strokeWidth=0.8, cornerRadius=0).encode(
    y=Y_D,
    x=alt.X("start:Q", scale=XD, axis=None),
    x2="end:Q",
    color=alt.Color("cls:N", scale=alt.Scale(domain=["I", "II", "III"], range=["#00a933", "#f6d800", "#dc2a22"]),
                    legend=leg(legendX=220, legendY=-4, symbolType="square", symbolSize=81,
                               symbolStrokeColor="#41719c", symbolStrokeWidth=0.8, columnPadding=6,
                               labelOffset=2, labelFontSize=11)),
)
text_d = alt.Chart(d_df).mark_text(font=FONT, fontSize=11.5, color="#404040").encode(
    y=Y_D, x=alt.X("lab:Q", scale=XD, axis=None), text="text:N")
panel_d = alt.layer(bars_d, text_d).properties(width=547, height=381, title=panel_title("d)", 59))

row1 = alt.hconcat(panel_a, panel_b, spacing=22).resolve_scale(
    color="independent", strokeDash="independent", stroke="independent")
row2 = alt.hconcat(panel_c, panel_d, spacing=18).resolve_scale(
    color="independent", strokeDash="independent", opacity="independent")
chart = alt.vconcat(row1, row2, spacing=119).resolve_scale(
    color="independent", strokeDash="independent", stroke="independent", opacity="independent"
).properties(padding={"left": 1, "top": -2, "right": 0, "bottom": 0}).configure_view(stroke=None)

chart.save("out.html", embed_options={"renderer": "svg", "actions": False})
